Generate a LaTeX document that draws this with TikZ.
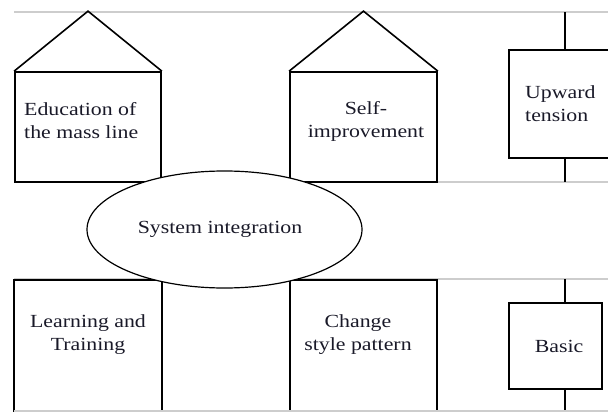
\documentclass[tikz,border=0pt]{standalone}
\usepackage{fontspec}
\setmainfont{Liberation Serif}[FakeStretch=1.18]
\usetikzlibrary{calc}
\usetikzlibrary{shapes.geometric}
\definecolor{rulegray}{RGB}{205,205,205}
\definecolor{ink}{RGB}{25,25,40}
\tikzset{
   frame/.style={draw=black, line width=1.7pt, inner sep=0pt},
   rulerline/.style={draw=rulegray, line width=1.8pt},
   stem/.style={draw=black, line width=1.7pt},
   txt/.style={text=ink, font=\fontsize{18.5}{23}\selectfont, inner sep=0pt}
}
\newcommand{\drawRoof}[2]{
   	\draw[line width=1.6pt, line join=miter] (#1.north west) -- ($(#1.north) + (0,-#2)$) -- (#1.north east) ;
}

\begin{document}
\begin{tikzpicture}[x=1pt,y=-1pt]
%%%%%%%%%%%%%%%%%%
\clip (0,0) rectangle (608,412);

%Rules
	\foreach \y in {12,182,279}
	{
		\draw[rulerline] (14,\y) -- (608,\y);
	}

%Boxes
    \node[frame, minimum width=146pt, minimum height=110pt] (edu) at (88,127) {};
    \node[frame, minimum width=147pt, minimum height=110pt] (self) at (363.5,127) {};
    \node[frame, minimum width=112pt, minimum height=108pt] (up) at (565,104) {};
    \node[frame, minimum width=148pt, minimum height=131pt] (learn) at (88,345.5) {};
    \node[frame, minimum width=147pt, minimum height=131pt] (change) at (363.5,345.5) {};
    \node[frame, minimum width=93pt, minimum height=86pt] (basic) at (555.5,346) {};

% Roofs
\drawRoof{edu}{60}
\drawRoof{self}{60}

% Stems
    \coordinate (upTop) at (565,12);
    \coordinate (upBot) at (565,182);
    \coordinate (baseTop) at (565,279);
    \coordinate (baseBot) at (565,411);
    \draw[stem] (up.north) -- (upTop);
    \draw[stem] (up.south) -- (upBot);
    \draw[stem] (basic.north -| baseTop) -- (baseTop);
    \draw[stem] (basic.south -| baseTop) -- (baseBot);

	\draw[rulerline] (14,411) -- (608,411);

% Ellipse
    \node[ellipse, draw=black, fill=white, line width=1.2pt, minimum width=275pt, minimum height=117pt] (sys) at (224.5,229.5) {};
    \node[txt] (sysTxt) at (220,229) {System integration};

% Texts
\node[txt, anchor=west, align=left] (eduTxt) at (24,121) {Education of\\the mass line};
    \node[txt, align=center] (selfTxt) at (366,121) {Self-\\improvement};
    \node[txt, anchor=west, align=left] (upTxt) at (525,104) {Upward\\tension};
    \node[txt, align=center] (learnTxt) at (88,335) {Learning and\\Training};
    \node[txt, align=center] (changeTxt) at (358,335) {Change\\style pattern};
    \node[txt] (basicTxt) at (559,346) {Basic};

\end{tikzpicture}
\end{document}
